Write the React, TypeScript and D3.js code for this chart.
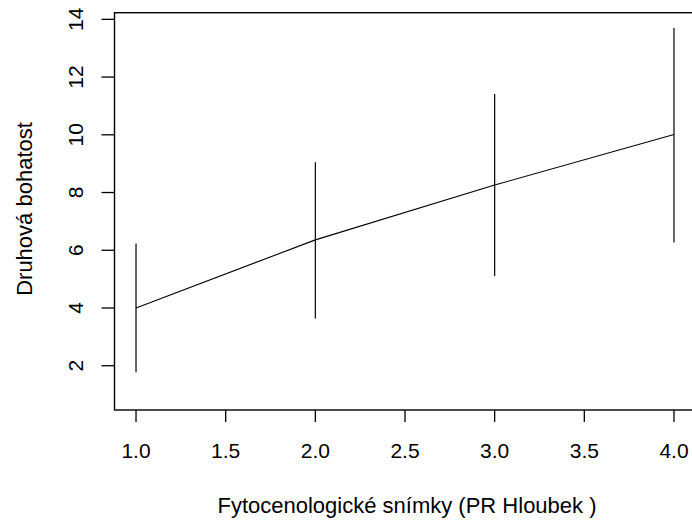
import React from "react";
import * as d3 from "d3";

const groups = [1, 2, 3, 4];
const means = [4.0, 6.36, 8.26, 10.01];
const lower = [1.77, 3.64, 5.11, 6.27];
const upper = [6.23, 9.05, 11.41, 13.7];
const xTicks = [1.0, 1.5, 2.0, 2.5, 3.0, 3.5, 4.0];
const yTicks = [2, 4, 6, 8, 10, 12, 14];
const xLabel = "Fytocenologické snímky (PR Hloubek )";
const yLabel = "Druhová bohatost";

const W = 692;
const H = 521;
const FONT = "Liberation Sans, Arial, sans-serif";

export default function App() {
  const x = d3.scaleLinear().domain([0.88, 4.12]).range([114.5, 695.5]);
  const y = d3.scaleLinear().domain([0.466, 14.23]).range([410, 12.7]);
  const line = d3
    .line<number>()
    .x((_, i) => x(groups[i]))
    .y((d) => y(d));

  const left = x(0.88);
  const right = x(4.12);
  const top = y(14.23);
  const bottom = y(0.466);

  return (
    <svg
      width={W}
      height={H}
      style={{ position: "absolute", left: 0, top: 0, background: "#fff" }}
      fontFamily={FONT}
    >
      <rect x={0} y={0} width={W} height={H} fill="#fff" />
      {/* plot box */}
      <rect
        x={left}
        y={top}
        width={right - left}
        height={bottom - top}
        fill="none"
        stroke="#000"
        strokeWidth={1.4}
      />
      {/* x axis ticks */}
      {xTicks.map((t) => (
        <g key={"xt" + t}>
          <line x1={x(t)} x2={x(t)} y1={bottom} y2={bottom + 12} stroke="#000" strokeWidth={1.3} />
          <text x={x(t)} y={458} textAnchor="middle" fontSize={21} fill="#000">
            {t.toFixed(1)}
          </text>
        </g>
      ))}
      {/* y axis ticks */}
      {yTicks.map((t) => (
        <g key={"yt" + t}>
          <line x1={left - 13} x2={left} y1={y(t)} y2={y(t)} stroke="#000" strokeWidth={1.3} />
          <text
            transform={`translate(83,${y(t)}) rotate(-90)`}
            textAnchor="middle"
            fontSize={21}
            fill="#000"
          >
            {t}
          </text>
        </g>
      ))}
      {/* error bars */}
      {groups.map((g, i) => (
        <line
          key={"eb" + g}
          x1={x(g)}
          x2={x(g)}
          y1={y(lower[i])}
          y2={y(upper[i])}
          stroke="#000"
          strokeWidth={1.2}
        />
      ))}
      {/* mean line */}
      <path d={line(means) || ""} fill="none" stroke="#000" strokeWidth={1.1} />
      {/* labels */}
      <text x={407} y={513} textAnchor="middle" fontSize={22} fill="#000">
        {xLabel}
      </text>
      <text
        transform={`translate(32,209) rotate(-90)`}
        textAnchor="middle"
        fontSize={22}
        fill="#000"
      >
        {yLabel}
      </text>
    </svg>
  );
}
